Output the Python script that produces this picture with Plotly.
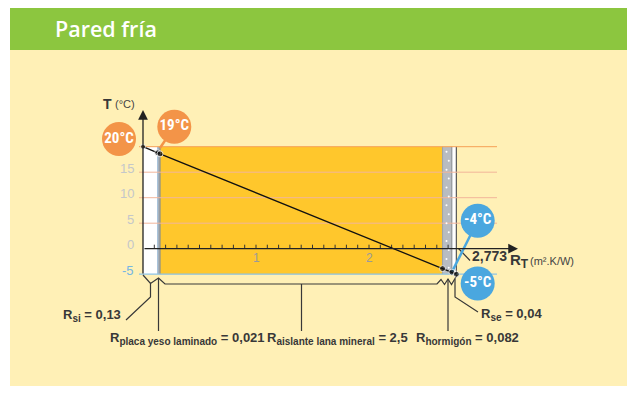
import plotly.graph_objects as go

# capas del muro, de interior a exterior (m2.K/W)
layer_keys = ['si', 'placa yeso laminado', 'aislante lana mineral', 'hormigón', 'se']
layer_r = [0.13, 0.021, 2.5, 0.082, 0.04]
layer_r_txt = ['0,13', '0,021', '2,5', '0,082', '0,04']
layer_fill = ['white', '#a9afb6', '#ffc72c', '#b8bcc1', 'white']

interface_r = [0, 0.13, 0.151, 2.651, 2.733, 2.773]
interface_t = [20, 18.8, 18.6, -3.9, -4.6, -5]
r_total = 2.773
r_total_txt = '2,773'

t_grid = [20, 15, 10, 5]
t_out = -5
y_tick_vals = [-5, 0, 5, 10, 15]
x_tick_vals = [1, 2]

bubbles = ['20°C', '19°C', '-4°C', '-5°C']

W, H = 636, 394
OFF = 8                     # page margin of the html body
X0_PX, X_PX = 143, 113      # pixel of R=0, pixels per unit
Y0_PX, Y_PX = 248.7, 5.1    # pixel of 0 °C, pixels per degree

GREEN = '#8cc63f'
CREAM = '#fff0b6'
ORANGE = '#f39448'
BLUE = '#4aa7df'
DARK = '#383838'
FONT = 'Liberation Sans, Arial, sans-serif'
NARROW = 'Liberation Sans Narrow, Roboto Condensed, Liberation Sans, Arial'


def dx(px):
    return (px - X0_PX) / X_PX


def dy(py):
    return (Y0_PX - py) / Y_PX


shapes = []
annotations = []
fig = go.Figure()


def line(x0, y0, x1, y1, color, width=1):
    shapes.append(dict(type='line', xref='x', yref='y', x0=x0, y0=y0, x1=x1, y1=y1,
                       line=dict(color=color, width=width), layer='below'))


def poly(pts, color=DARK, width=1.2):
    fig.add_trace(go.Scatter(x=[dx(p[0]) for p in pts], y=[dy(p[1]) for p in pts],
                             mode='lines', line=dict(color=color, width=width),
                             hoverinfo='skip'))


def label(text, xpx, ypx, size=13, color=DARK, anchor='left', family=FONT):
    annotations.append(dict(x=dx(xpx), y=dy(ypx), xref='x', yref='y', text=text,
                            showarrow=False, xanchor=anchor, yanchor='middle',
                            font=dict(family=family, size=size, color=color)))


def r_label(i, xpx, ypx, anchor='left'):
    txt = ("<b>R<sub><span style='font-size:10px'>%s</span></sub> = %s</b>"
           % (layer_keys[i], layer_r_txt[i]))
    label(txt, xpx, ypx, size=13, anchor=anchor)


# fondo y cabecera
shapes.append(dict(type='rect', xref='x', yref='y', x0=dx(10), x1=dx(627), y0=dy(386), y1=dy(50),
                   fillcolor=CREAM, line_width=0, layer='below'))
shapes.append(dict(type='rect', xref='x', yref='y', x0=dx(10), x1=dx(627), y0=dy(50), y1=dy(5),
                   fillcolor=GREEN, line_width=0, layer='below'))
annotations.append(dict(x=dx(53), y=dy(28), xref='x', yref='y', text='Pared fría', showarrow=False,
                        xanchor='left', yanchor='middle',
                        font=dict(family='Open Sans', size=21.5, color='white', weight=600)))

# capas
for i in range(len(layer_r)):
    shapes.append(dict(type='rect', xref='x', yref='y', x0=interface_r[i], x1=interface_r[i + 1],
                       y0=t_out, y1=t_grid[0], fillcolor=layer_fill[i], line_width=0, layer='below'))
line(interface_r[1], t_out, interface_r[1], t_grid[0], '#9cbcda', 1)
line(interface_r[2], t_out, interface_r[2], t_grid[0], '#7f878e', 1)
line(interface_r[3], t_out, interface_r[3], t_grid[0], '#9da3a9', 1)
line(interface_r[4], t_out, interface_r[4], t_grid[0], '#80878e', 1)
line(interface_r[5], t_out, interface_r[5], t_grid[0], '#555555', 1.2)

# líneas de temperatura
for t in t_grid:
    line(dx(139), t, dx(497), t, '#f6a055' if t == t_grid[0] else '#f2b59a', 1)
line(dx(139), t_out, dx(497), t_out, '#8cc3e6', 1.2)

# puntitos del hormigón
cx = [interface_r[3] + 0.035 + (0.02 if k % 2 else 0) for k in range(14)]
cy = [19 - k * 1.75 for k in range(14)]
fig.add_trace(go.Scatter(x=cx, y=cy, mode='markers', marker=dict(size=2, color='white'),
                         hoverinfo='skip'))

# marcas del eje x
for k in range(1, 28):
    line(k / 10, 0, k / 10, 4 / Y_PX, '#333333', 1)

# ejes con flecha
annotations.append(dict(x=dx(518), y=0, ax=0, ay=0, xref='x', yref='y', axref='x', ayref='y',
                        text='', showarrow=True, arrowhead=2, arrowsize=1.5, arrowwidth=1.3,
                        arrowcolor='#222222'))
annotations.append(dict(x=0, y=dy(110), ax=0, ay=dy(275), xref='x', yref='y', axref='x', ayref='y',
                        text='', showarrow=True, arrowhead=2, arrowsize=1.5, arrowwidth=1.3,
                        arrowcolor='#222222'))

# etiquetas de ejes
for v in y_tick_vals:
    label(str(v), 136, Y0_PX - v * Y_PX - 4, size=13,
          color='#74b6e4' if v == t_out else '#c4c7ca', anchor='right')
for v in x_tick_vals:
    label(str(v), X0_PX + v * X_PX, 258, size=12, color='#9a9a9a', anchor='center')
label('<b>T</b>', 107, 104, size=14, anchor='center')
label('(°C)', 113, 104, size=11, color='#444444')
label("<b>R<sub><span style='font-size:12px'>T</span></sub></b>", 508, 261, size=15)
label('(m².K/W)', 528, 261, size=11, color='#444444')
label('<b>' + r_total_txt + '</b>', 470, 256, size=14)
poly([(458.5, 248.5), (470, 260.5)], width=1.2)

# llaves inferiores y guías
poly([(143, 275), (150.5, 283.5), (158.5, 278), (165, 284), (437, 284), (441, 279.5),
      (444.5, 284.5), (448, 279), (451.5, 284.5), (455, 279), (457, 275)])
poly([(150.5, 283.5), (150.5, 297), (126, 320)])
poly([(158.5, 278), (158.5, 331)])
poly([(301.5, 284), (301.5, 331)])
poly([(448, 279), (448, 331)])
poly([(455, 279), (455, 297), (478, 312)])

r_label(0, 123, 315, anchor='right')
r_label(1, 108, 338)
r_label(2, 265, 338)
r_label(3, 414, 338)
r_label(4, 479, 314)

# indicadores de las burbujas
poly([(174.3, 126.7), (160, 148)], color=ORANGE, width=2.5)
fig.add_trace(go.Scatter(x=[dx(477.7), interface_r[4]], y=[dy(220.7), interface_t[4]],
                         mode='lines', line=dict(color=BLUE, width=2.5), hoverinfo='skip'))

# perfil de temperatura
fig.add_trace(go.Scatter(x=interface_r, y=interface_t, mode='lines+markers',
                         line=dict(color='#111111', width=1.3),
                         marker=dict(size=[5, 6, 6, 6, 6, 6], color='#111111'),
                         hoverinfo='skip'))

# burbujas
bx = [dx(119), dx(174.3), dx(477.7), dx(477.7)]
by = [dy(139), dy(126.7), dy(220.7), dy(283.5)]
fig.add_trace(go.Scatter(x=bx, y=by, mode='markers+text', text=['<b>%s</b>' % b for b in bubbles],
                         textposition='middle center',
                         textfont=dict(family=NARROW, size=15, color='white'),
                         marker=dict(size=34, color=[ORANGE, ORANGE, BLUE, BLUE]),
                         hoverinfo='skip'))

fig.update_layout(
    width=W - OFF, height=H - OFF, margin=dict(l=0, r=0, t=0, b=0),
    paper_bgcolor='white', plot_bgcolor='white', showlegend=False,
    xaxis=dict(visible=False, range=[dx(OFF), dx(W)], fixedrange=True),
    yaxis=dict(visible=False, range=[dy(H), dy(OFF)], fixedrange=True),
    shapes=shapes, annotations=annotations,
)
fig.write_html('out.html')
